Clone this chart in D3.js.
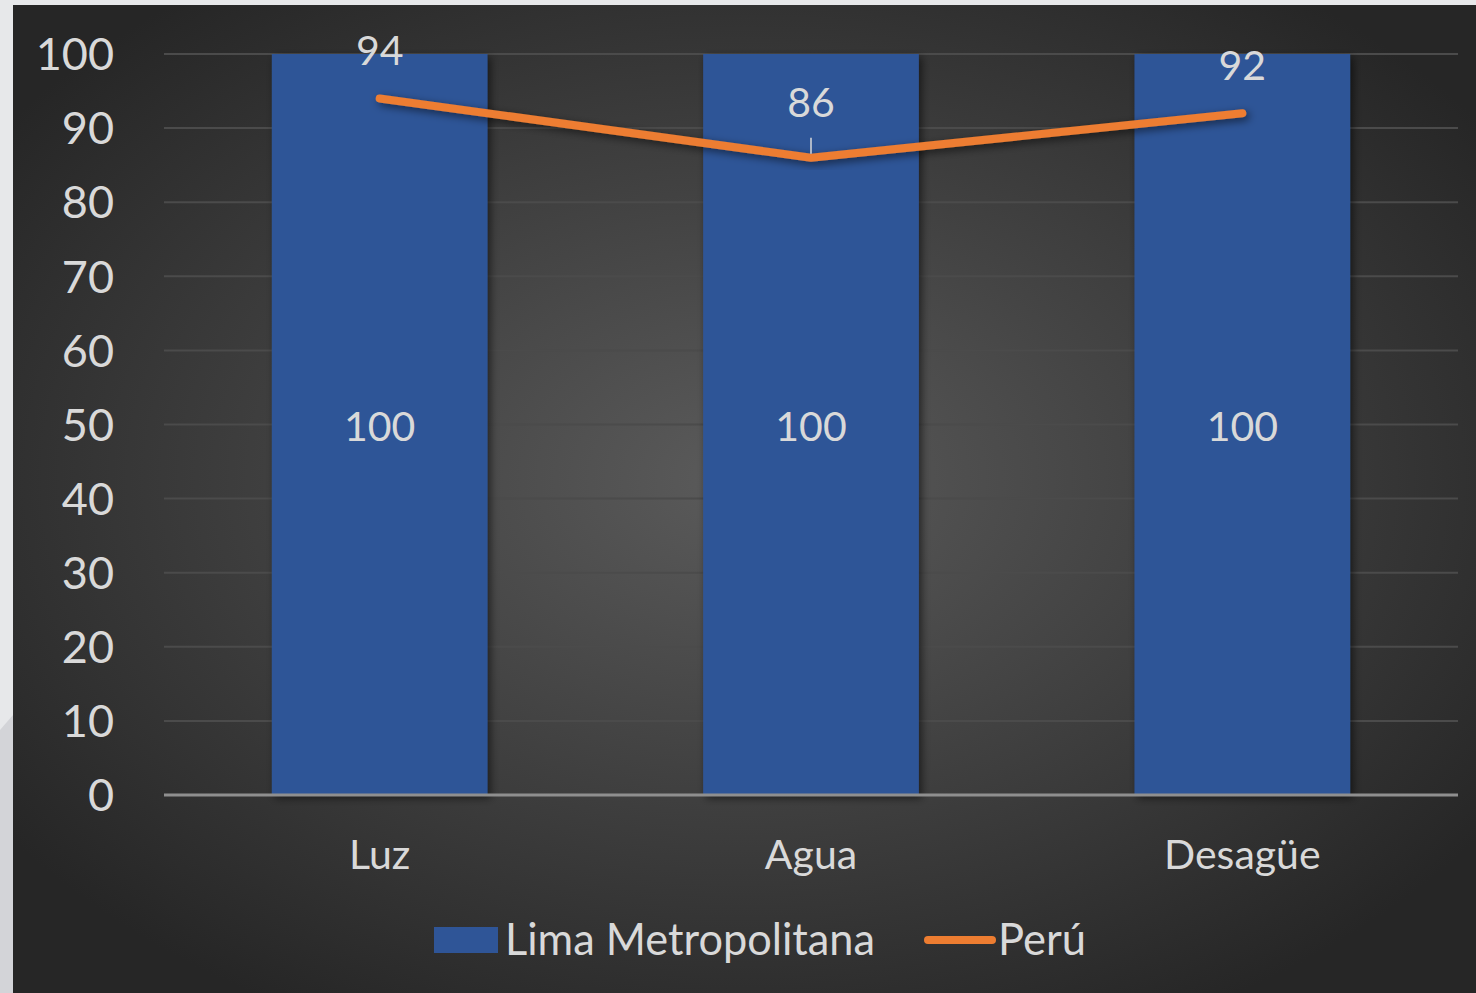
<!DOCTYPE html>
<html><head><meta charset="utf-8">
<script src="https://cdn.jsdelivr.net/npm/d3@7"></script>
<style>html,body{margin:0;padding:0;background:#e7e8ea;overflow:hidden}</style>
</head><body>
<svg id="c" width="1476" height="993"></svg>
<script>
const categories = ["Luz", "Agua", "Desagüe"];
const limaValues = [100, 100, 100];
const peruValues = [94, 86, 92];
const yTicks = [0, 10, 20, 30, 40, 50, 60, 70, 80, 90, 100];
const seriesNames = ["Lima Metropolitana", "Perú"];

const W = 1476, H = 993;
const font = "Lato, 'Open Sans', sans-serif";
const svg = d3.select("#c");
const defs = svg.append("defs");
const rg = defs.append("radialGradient").attr("id", "bg").attr("cx", "50%").attr("cy", "48%").attr("r", "62%");
rg.append("stop").attr("offset", "0%").attr("stop-color", "#5b5b5b");
rg.append("stop").attr("offset", "100%").attr("stop-color", "#262626");
const sh = defs.append("filter").attr("id", "sh").attr("x", "-20%").attr("y", "-20%").attr("width", "140%").attr("height", "140%");
sh.append("feDropShadow").attr("dx", 3).attr("dy", 3).attr("stdDeviation", 4).attr("flood-color", "#000").attr("flood-opacity", 0.55);

svg.append("rect").attr("width", W).attr("height", H).attr("fill", "#e7e8ea");
svg.append("path").attr("d", "M0,730 L13,715 L13,993 L0,993Z").attr("fill", "#d3d4d8");
svg.append("rect").attr("x", 13).attr("y", 5).attr("width", W - 13).attr("height", H - 5).attr("fill", "url(#bg)");

const x = d3.scaleBand().domain(categories).range([164, 1458]).paddingInner(0.5).paddingOuter(0.25);
const y = d3.scaleLinear().domain([0, 100]).range([795, 54]);

// gridlines
svg.append("g").selectAll("line").data(yTicks.filter(d => d > 0)).join("line")
  .attr("x1", 164).attr("x2", 1458).attr("y1", d => y(d)).attr("y2", d => y(d))
  .attr("stroke", "#4b4b4b").attr("stroke-width", 2);

// y axis labels
const yAxis = d3.axisLeft(y).tickValues(yTicks).tickSize(0).tickPadding(0);
const ya = svg.append("g").attr("transform", "translate(114,0)").call(yAxis);
ya.select(".domain").remove();
ya.selectAll("text").attr("font-family", font).attr("font-size", 45).attr("fill", "#d9d9d9").attr("dy", "0.35em");

// bars
svg.append("g").selectAll("rect").data(limaValues).join("rect")
  .attr("x", (d, i) => x(categories[i])).attr("width", x.bandwidth())
  .attr("y", d => y(d)).attr("height", d => y(0) - y(d))
  .attr("fill", "#2f5597").attr("filter", "url(#sh)");

// x axis
const xAxis = d3.axisBottom(x).tickSize(0).tickPadding(0);
const xa = svg.append("g").attr("transform", `translate(0,${y(0)})`).call(xAxis);
xa.select(".domain").attr("stroke", "#8f8f8f").attr("stroke-width", 3).attr("d", "M164,0H1458");
xa.selectAll("text").attr("font-family", font).attr("font-size", 41).attr("fill", "#d9d9d9").attr("dy", "1.8em");

// bar labels
svg.append("g").selectAll("text").data(limaValues).join("text")
  .attr("x", (d, i) => x(categories[i]) + x.bandwidth() / 2).attr("y", d => y(d / 2) + 2)
  .attr("dy", "0.35em").attr("text-anchor", "middle")
  .attr("font-family", font).attr("font-size", 41).attr("fill", "#d9d9d9").text(d => d);

// line
const cx = i => x(categories[i]) + x.bandwidth() / 2;
const line = d3.line().x((d, i) => cx(i)).y(d => y(d));
svg.append("path").datum(peruValues).attr("d", line).attr("fill", "none")
  .attr("stroke", "#ed7d31").attr("stroke-width", 8).attr("stroke-linecap", "round").attr("stroke-linejoin", "round")
  .attr("filter", "url(#sh)");

// line labels
const labOff = [48, 55, 48];
svg.append("line").attr("x1", cx(1)).attr("x2", cx(1)).attr("y1", y(peruValues[1]) - 20).attr("y2", y(peruValues[1]) - 4)
  .attr("stroke", "#d9d9d9").attr("stroke-width", 1.5);
svg.append("g").selectAll("text").data(peruValues).join("text")
  .attr("x", (d, i) => cx(i)).attr("y", (d, i) => y(d) - labOff[i])
  .attr("dy", "0.35em").attr("text-anchor", "middle")
  .attr("font-family", font).attr("font-size", 41).attr("fill", "#d9d9d9").text(d => d);

// legend
const lg = svg.append("g");
lg.append("rect").attr("x", 434).attr("y", 927).attr("width", 64).attr("height", 26).attr("fill", "#2f5597");
lg.append("text").attr("x", 505).attr("y", 940).attr("dy", "0.35em").attr("font-family", font).attr("font-size", 43.5).attr("fill", "#d9d9d9")
  .attr("textLength", 370).attr("lengthAdjust", "spacingAndGlyphs").text(seriesNames[0]);
lg.append("line").attr("x1", 928).attr("x2", 992).attr("y1", 940).attr("y2", 940).attr("stroke", "#ed7d31").attr("stroke-width", 8).attr("stroke-linecap", "round");
lg.append("text").attr("x", 998).attr("y", 940).attr("dy", "0.35em").attr("font-family", font).attr("font-size", 43.5).attr("fill", "#d9d9d9").text(seriesNames[1]);
</script>
</body></html>
